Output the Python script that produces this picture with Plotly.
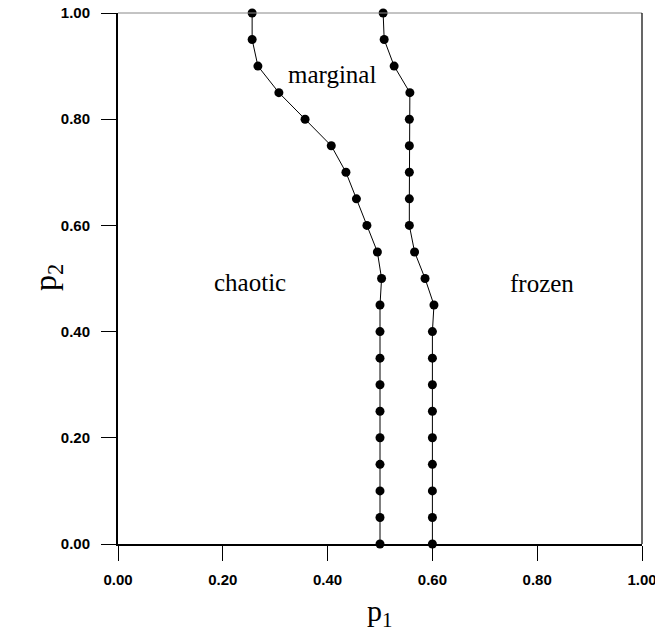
import plotly.graph_objects as go

# data
p2_vals = [0.00, 0.05, 0.10, 0.15, 0.20, 0.25, 0.30, 0.35, 0.40, 0.45, 0.50,
           0.55, 0.60, 0.65, 0.70, 0.75, 0.80, 0.85, 0.90, 0.95, 1.00]
chaotic_boundary_p1 = [0.50, 0.50, 0.50, 0.50, 0.50, 0.50, 0.50, 0.50, 0.50, 0.50, 0.503,
                       0.495, 0.475, 0.455, 0.435, 0.407, 0.357, 0.307, 0.267, 0.256, 0.256]
frozen_boundary_p1 = [0.60, 0.60, 0.60, 0.60, 0.60, 0.60, 0.60, 0.60, 0.60, 0.603, 0.586,
                      0.566, 0.556, 0.556, 0.556, 0.556, 0.556, 0.557, 0.527, 0.508, 0.506]
tick_vals = [0.0, 0.2, 0.4, 0.6, 0.8, 1.0]
tick_text = ["0.00", "0.20", "0.40", "0.60", "0.80", "1.00"]
region_labels = ["marginal", "chaotic", "frozen"]
region_x = [0.408, 0.252, 0.81]
region_y = [0.885, 0.492, 0.49]

fig = go.Figure()
for xs in (chaotic_boundary_p1, frozen_boundary_p1):
    fig.add_trace(go.Scatter(
        x=xs, y=p2_vals, mode="lines+markers",
        line=dict(color="black", width=1),
        marker=dict(color="black", size=9),
        showlegend=False, cliponaxis=False))

for t, x, y in zip(region_labels, region_x, region_y):
    fig.add_annotation(x=x, y=y, text=t, showarrow=False,
                       font=dict(family="Liberation Serif", size=25, color="black"))

axis_common = dict(range=[0, 1], tickvals=tick_vals, ticktext=tick_text,
                   ticks="outside", ticklen=15, tickwidth=1.2, tickcolor="black",
                   showgrid=False, zeroline=False, showline=True, linecolor="black",
                   ticklabeloverflow="allow", automargin=False,
                   tickfont=dict(family="Liberation Sans", size=15, color="black", weight="bold"))

fig.update_xaxes(**axis_common, linewidth=1.5, ticklabelstandoff=6)
fig.update_yaxes(**axis_common, linewidth=2, ticklabelstandoff=8)

# top (gray) and right border
fig.add_shape(type="line", xref="paper", yref="paper", x0=0, x1=1, y0=1, y1=1,
              line=dict(color="#888888", width=1))
fig.add_shape(type="line", xref="paper", yref="paper", x0=1, x1=1, y0=0, y1=1,
              line=dict(color="black", width=1.2))

fig.add_annotation(xref="paper", yref="paper", x=0.5, y=0, yshift=-90, text="p<sub>1</sub>",
                   showarrow=False, font=dict(family="Liberation Serif", size=30, color="black"))
fig.add_annotation(xref="paper", yref="paper", x=0, xshift=-93, y=0.502, text="p<sub>2</sub>",
                   textangle=-90, showarrow=False,
                   font=dict(family="Liberation Serif", size=32, color="black"))

fig.update_layout(width=655, height=631, margin=dict(l=118, r=13, t=13, b=87),
                  plot_bgcolor="white", paper_bgcolor="white")

fig.write_html("out.html")
